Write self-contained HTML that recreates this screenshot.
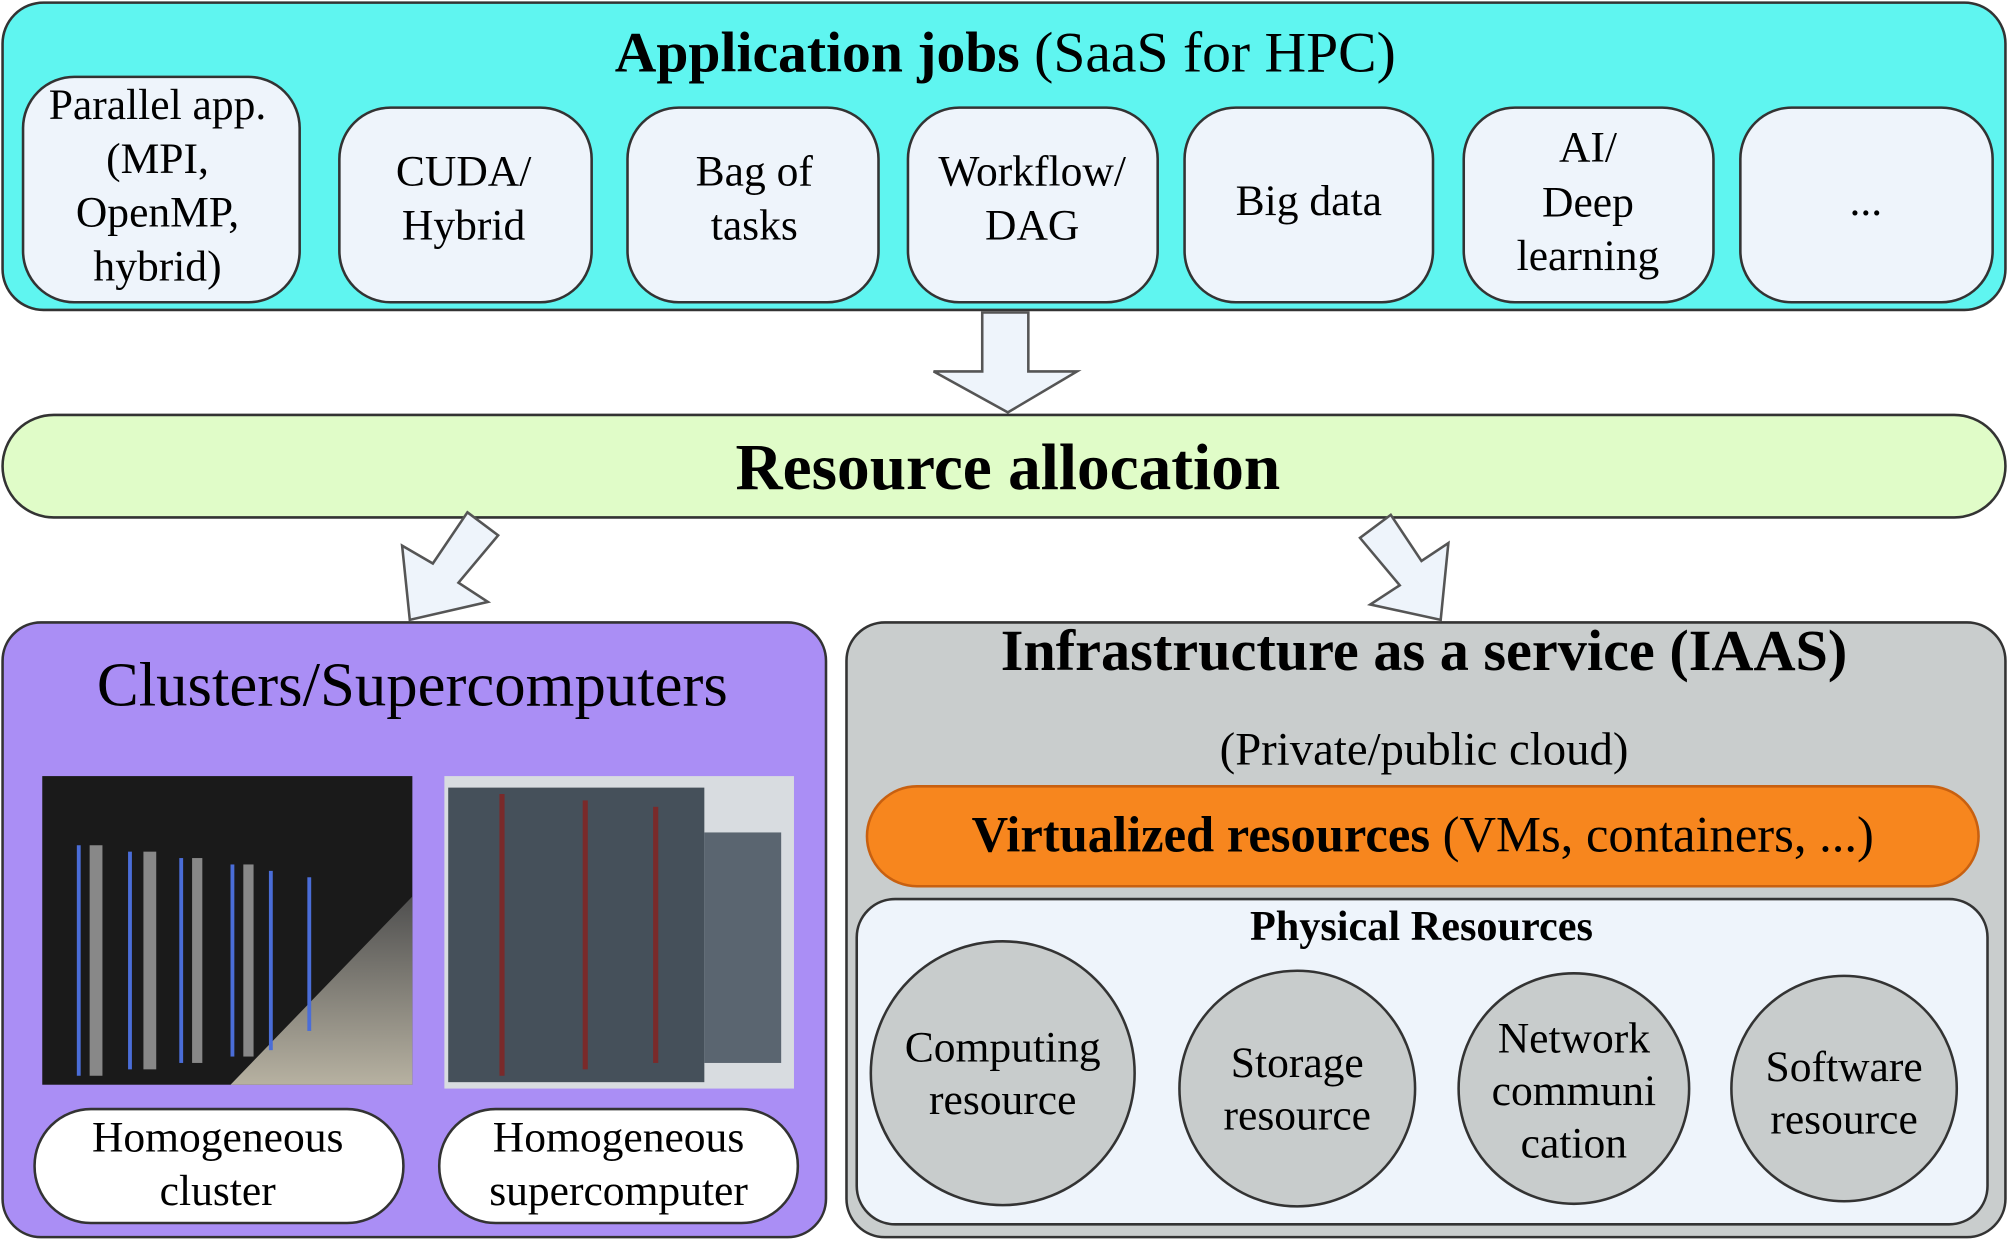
<!DOCTYPE html>
<html><head><meta charset="utf-8"><style>html,body{margin:0;padding:0;background:#fff}svg{display:block}</style></head>
<body>
<svg width="2008" height="1241" viewBox="0 0 1568 969" xmlns="http://www.w3.org/2000/svg" font-family="Liberation Serif, serif">
<defs>
<linearGradient id="flr" x1="0" y1="0" x2="0" y2="1"><stop offset="0" stop-color="#555"/><stop offset="1" stop-color="#c8c2b0"/></linearGradient>
</defs>
<rect x="2" y="2" width="1564" height="240" rx="32" fill="#5ff5f0" stroke="#333" stroke-width="2"/>
<text x="785" y="56" text-anchor="middle" font-size="45"><tspan font-weight="bold">Application jobs</tspan> (SaaS for HPC)</text>
<g fill="#eef4fb" stroke="#333" stroke-width="2">
<rect x="18" y="60" width="216" height="176" rx="40"/>
<rect x="265" y="84" width="197" height="152" rx="40"/>
<rect x="490" y="84" width="196" height="152" rx="40"/>
<rect x="709" y="84" width="195" height="152" rx="40"/>
<rect x="925" y="84" width="194" height="152" rx="40"/>
<rect x="1143" y="84" width="195" height="152" rx="40"/>
<rect x="1359" y="84" width="197" height="152" rx="40"/>
</g>
<g font-size="34" text-anchor="middle" fill="#000">
<text x="123" y="93">Parallel app.</text><text x="123" y="135">(MPI,</text><text x="123" y="177">OpenMP,</text><text x="123" y="219">hybrid)</text>
<text x="362" y="145">CUDA/</text><text x="362" y="187">Hybrid</text>
<text x="589" y="145">Bag of</text><text x="589" y="187">tasks</text>
<text x="806" y="145">Workflow/</text><text x="806" y="187">DAG</text>
<text x="1022" y="168">Big data</text>
<text x="1240" y="126">AI/</text><text x="1240" y="169">Deep</text><text x="1240" y="211">learning</text>
<text x="1457" y="168">...</text>
</g>
<path d="M767 244 H803 V290 H841 L787 322 L729 290 H767 Z" fill="#eef4fb" stroke="#555" stroke-width="2"/>
<rect x="2" y="324" width="1564" height="80" rx="40" fill="#e0fcc8" stroke="#333" stroke-width="2"/>
<text x="787" y="382" text-anchor="middle" font-size="51" font-weight="bold">Resource allocation</text>
<path d="M365 400 L389 418 L358 455 L381 470 L320 484 L314 426 L338 440 Z" fill="#eef4fb" stroke="#555" stroke-width="2"/>
<path d="M1086 402 L1062 420 L1093 457 L1070 472 L1125 484 L1131 424 L1110 438 Z" fill="#eef4fb" stroke="#555" stroke-width="2"/>
<rect x="2" y="486" width="643" height="480" rx="30" fill="#aa8ef5" stroke="#333" stroke-width="2"/>
<text x="322" y="551" text-anchor="middle" font-size="49">Clusters/Supercomputers</text>
<rect x="33" y="606" width="289" height="241" fill="#1a1a1a"/>
<polygon points="33,847 322,847 322,700 180,847" fill="url(#flr)" opacity="0.9"/>
<g fill="#4a6dd8"><rect x="60" y="660" width="3" height="180"/><rect x="100" y="665" width="3" height="170"/><rect x="140" y="670" width="3" height="160"/><rect x="180" y="675" width="3" height="150"/><rect x="210" y="680" width="3" height="140"/><rect x="240" y="685" width="3" height="120"/></g>
<g fill="#888"><rect x="70" y="660" width="10" height="180"/><rect x="112" y="665" width="10" height="170"/><rect x="150" y="670" width="8" height="160"/><rect x="190" y="675" width="8" height="150"/></g>
<rect x="347" y="606" width="273" height="244" fill="#d8dce0"/>
<rect x="350" y="615" width="200" height="230" fill="#45505a"/>
<g fill="#7a2a2a"><rect x="390" y="620" width="4" height="220"/><rect x="455" y="625" width="4" height="210"/><rect x="510" y="630" width="4" height="200"/></g>
<rect x="550" y="650" width="60" height="180" fill="#5a6570"/>
<g fill="#fff" stroke="#333" stroke-width="2">
<rect x="27" y="866" width="288" height="89" rx="44"/>
<rect x="343" y="866" width="280" height="89" rx="44"/>
</g>
<g font-size="34" text-anchor="middle">
<text x="170" y="899">Homogeneous</text><text x="170" y="941">cluster</text>
<text x="483" y="899">Homogeneous</text><text x="483" y="941">supercomputer</text>
</g>
<rect x="661" y="486" width="905" height="480" rx="30" fill="#c9cdcd" stroke="#333" stroke-width="2"/>
<text x="1112" y="523" text-anchor="middle" font-size="45.5" font-weight="bold">Infrastructure as a service (IAAS)</text>
<text x="1112" y="597" text-anchor="middle" font-size="36.5">(Private/public cloud)</text>
<rect x="677" y="614" width="868" height="78" rx="39" fill="#f7861e" stroke="#c86010" stroke-width="2"/>
<text x="1111" y="665" text-anchor="middle" font-size="39.5"><tspan font-weight="bold">Virtualized resources</tspan> (VMs, containers, ...)</text>
<rect x="669" y="702" width="883" height="254" rx="30" fill="#eef4fb" stroke="#333" stroke-width="2"/>
<text x="1110" y="734" text-anchor="middle" font-size="33" font-weight="bold">Physical Resources</text>
<g fill="#c8cccc" stroke="#333" stroke-width="2">
<circle cx="783" cy="838" r="103"/>
<circle cx="1013" cy="850" r="92"/>
<circle cx="1229" cy="850" r="90"/>
<circle cx="1440" cy="850" r="88"/>
</g>
<g font-size="34" text-anchor="middle">
<text x="783" y="829">Computing</text><text x="783" y="870">resource</text>
<text x="1013" y="841">Storage</text><text x="1013" y="882">resource</text>
<text x="1229" y="822">Network</text><text x="1229" y="863">communi</text><text x="1229" y="904">cation</text>
<text x="1440" y="844">Software</text><text x="1440" y="885">resource</text>
</g>
</svg>
</body></html>
